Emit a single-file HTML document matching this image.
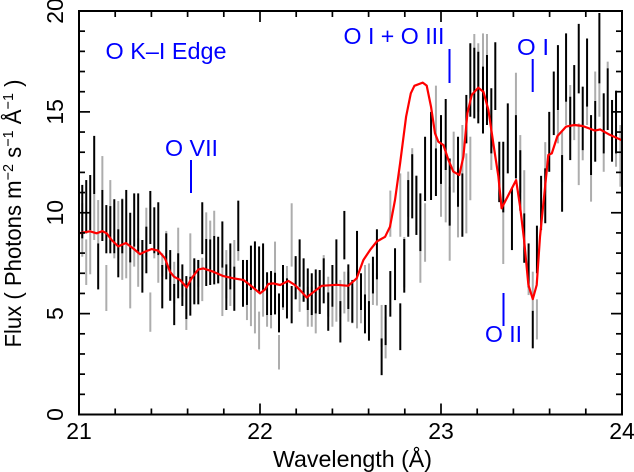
<!DOCTYPE html>
<html>
<head>
<meta charset="utf-8">
<style>
html,body{margin:0;padding:0;background:#fff;}
svg{display:block;}
text{font-family:"Liberation Sans",sans-serif;}
</style>
</head>
<body>
<svg id="chart" width="634" height="472" viewBox="0 0 634 472" xmlns="http://www.w3.org/2000/svg">
  <rect width="634" height="472" fill="#fff"/>
  <defs><clipPath id="plotClip"><rect x="79" y="11" width="543" height="403.5"/></clipPath></defs>
  <g id="grayBars" clip-path="url(#plotClip)"></g>
  <g id="blackBars" clip-path="url(#plotClip)"></g>
  <polyline id="modelLine" clip-path="url(#plotClip)" fill="none" stroke="#ff0000" stroke-width="2.2" stroke-linejoin="round"/>
  <g id="axes"></g>
  <g fill="#0000ff" font-size="23">
    <text x="105.500" y="59" textLength="121" lengthAdjust="spacingAndGlyphs">O K–I Edge</text>
    <text x="165" y="156" textLength="53" lengthAdjust="spacingAndGlyphs">O VII</text>
    <text x="343.500" y="44" textLength="101" lengthAdjust="spacingAndGlyphs">O I + O III</text>
    <text x="517" y="55" textLength="32" lengthAdjust="spacingAndGlyphs">O I</text>
    <text x="485" y="342" textLength="37" lengthAdjust="spacingAndGlyphs">O II</text>
    <line x1="191" y1="160" x2="191" y2="193" stroke="#0000ff" stroke-width="2"/>
    <line x1="449.500" y1="49" x2="449.500" y2="83" stroke="#0000ff" stroke-width="2"/>
    <line x1="532.700" y1="59" x2="532.700" y2="92" stroke="#0000ff" stroke-width="2"/>
    <line x1="503.500" y1="293" x2="503.500" y2="326" stroke="#0000ff" stroke-width="2"/>
  </g>
  <text x="273" y="467" font-size="23" fill="#000" textLength="159" lengthAdjust="spacingAndGlyphs">Wavelength (Å)</text>
  <text transform="translate(21,347.500) rotate(-90)" font-size="23" fill="#000" textLength="268" lengthAdjust="spacingAndGlyphs">Flux ( Photons m<tspan dy="-8" font-size="15">−2</tspan><tspan dy="8"> s</tspan><tspan dy="-8" font-size="15">−1</tspan><tspan dy="8"> Å</tspan><tspan dy="-8" font-size="15">−1</tspan><tspan dy="8"> )</tspan></text>
</svg>
<script>
const wavelengths = [
21.018,21.040,21.062,21.084,21.106,21.129,21.151,21.173,21.195,21.217,
21.239,21.261,21.283,21.305,21.327,21.350,21.372,21.394,21.416,21.438,
21.460,21.482,21.504,21.526,21.548,21.571,21.593,21.615,21.637,21.659,
21.681,21.703,21.725,21.747,21.769,21.792,21.814,21.836,21.858,21.880,
21.906,21.928,21.950,21.972,21.995,22.017,22.039,22.061,22.083,22.105,
22.127,22.149,22.175,22.197,22.219,22.241,22.264,22.286,22.308,22.330,
22.352,22.377,22.400,22.422,22.444,22.466,22.488,22.510,22.536,22.558,
22.580,22.602,22.624,22.646,22.672,22.694,22.720,22.746,22.775,22.797,
22.819,22.841,22.864,22.886,22.912,22.945,22.972,23.000,23.026,23.048,
23.070,23.094,23.118,23.140,23.162,23.184,23.206,23.232,23.254,23.278,
23.300,23.322,23.344,23.369,23.392,23.414,23.438,23.460,23.484,23.507,
23.530,23.553,23.576,23.598,23.623,23.646,23.669,23.691,23.714,23.736,
23.761,23.783,23.807,23.829,23.852,23.875,23.899,23.921,23.945,23.967,23.991];

const blackHigh = [
11.38,11.62,11.87,13.81,8.48,11.13,10.38,10.33,10.67,9.18,
10.67,11.13,10.0,10.96,10.96,8.65,9.31,11.08,10.27,10.52,
7.41,8.98,8.15,6.47,7.99,7.44,6.86,6.83,7.74,7.66,
10.52,8.70,8.68,8.85,8.81,9.57,7.44,8.48,7.33,10.6,
7.66,7.66,8.37,8.58,8.33,8.48,7.05,7.11,7.03,6.0,
7.41,6.75,6.37,7.85,8.68,7.74,7.24,7.0,7.19,7.16,
7.74,6.05,7.41,8.68,5.62,10.09,7.44,6.67,9.1,7.0,
5.95,5.62,7.82,9.18,3.77,5.43,7.11,8.24,5.51,8.70,
11.62,12.9,11.82,10.96,13.77,15.0,13.19,14.84,15.64,12.69,
null,13.77,11.95,15.84,18.4,18.18,17.98,17.24,17.82,16.17,
18.45,13.52,13.52,15.42,11.24,14.84,13.1,9.97,8.48,5.14,
9.36,11.83,12.2,15.0,17.0,18.31,12.86,18.89,15.75,17.32,
19.36,16.25,18.64,14.84,15.54,19.9,15.92,17.16,15.59,16.05,null];

const blackLow = [
8.73,8.98,9.14,10.93,6.20,8.60,7.99,7.99,7.99,6.80,
7.99,8.48,7.54,8.32,7.99,6.04,7.0,8.45,7.99,7.90,
5.26,6.70,5.64,4.43,5.76,5.38,4.73,4.90,5.46,5.46,
7.95,6.37,6.42,6.45,6.5,7.28,5.18,6.2,5.14,8.10,
5.34,5.43,6.17,6.25,6.09,6.17,4.93,4.93,4.96,4.07,
5.31,4.76,4.52,5.71,6.33,5.59,5.18,4.93,5.01,4.98,
5.51,4.15,5.34,6.42,3.57,7.69,5.23,4.55,6.83,5.18,
4.02,3.66,6.0,6.7,1.95,3.44,4.85,5.67,3.19,6.04,
8.81,9.72,8.9,8.10,10.58,10.63,10.83,11.43,12.12,9.36,
null,10.30,8.81,13.44,14.76,14.68,14.43,13.93,14.35,12.94,
15.09,10.53,10.02,11.95,8.15,11.70,10.1,7.52,6.30,3.28,
7.0,9.14,9.48,12.03,13.85,15.09,10.05,15.5,12.61,14.35,
15.92,13.1,15.26,11.87,12.53,16.41,12.94,14.1,12.53,12.94,null];

const grayHigh = [
10.47,8.68,9.14,10.93,10.63,12.81,7.41,11.62,7.99,10.58,
10.71,8.48,7.66,8.32,8.73,8.65,10.25,6.05,7.99,7.9,
7.99,9.1,6.83,7.57,9.26,6.67,6.50,8.98,7.66,7.66,
7.77,10.02,9.61,10.1,7.16,7.28,8.15,6.2,8.65,8.1,
7.16,5.43,6.17,6.25,5.10,6.17,4.93,6.33,8.57,3.94,
6.33,7.36,10.47,7.74,6.33,7.16,6.33,6.33,6.17,7.16,
7.9,6.83,5.34,6.42,6.67,7.08,7.08,6.33,6.83,6.33,
7.41,7.49,7.49,7.0,5.43,4.85,11.1,null,11.95,8.8,
12.04,13.2,11.87,9.14,10.47,null,16.3,13.6,13.0,11.29,
14.02,12.28,14.35,12.94,13.77,18.86,18.4,18.89,18.86,15.09,
null,11.8,10.3,null,null,16.94,13.85,12.11,8.15,7.08,
5.71,null,13.5,null,null,15.09,14.0,15.5,16.33,14.35,
14.43,13.1,15.26,11.87,17.0,16.41,12.94,17.49,null,12.94,14.35];

const grayLow = [
7.82,6.42,6.95,8.65,8.48,11.13,5.13,8.98,7.74,8.15,
6.67,6.75,5.26,7.33,6.33,7.16,7.82,4.10,7.74,6.53,
6.83,7.16,5.64,5.51,6.67,5.84,4.19,6.83,5.51,6.33,
5.62,8.70,8.68,8.85,6.5,4.88,5.76,5.38,7.33,7.62,
5.51,4.68,4.38,4.02,3.23,4.85,4.35,4.27,7.03,2.23,
5.18,6.75,7.33,5.71,5.09,5.59,4.35,4.35,4.02,5.01,
7.16,4.85,4.35,4.6,4.85,5.01,4.6,4.52,4.27,4.52,
5.51,5.51,5.43,5.4,3.36,2.78,8.81,null,8.81,6.3,
9.8,10.63,9.14,6.53,7.57,null,13.19,9.8,9.52,7.62,
11.0,8.78,11.95,8.98,10.62,15.92,15.0,15.92,15.92,12.12,
null,10.52,7.46,null,null,14.84,11.0,9.97,5.92,5.14,
3.72,null,11.0,null,null,13.44,11.5,14.35,13.6,13.6,
11.37,12.6,14.35,10.55,15.54,14.76,12.03,17.16,null,12.28,11.29];

const modelWave = [
21.0,21.061,21.097,21.129,21.153,21.180,21.217,21.259,21.300,21.337,
21.364,21.401,21.438,21.475,21.503,21.525,21.558,21.595,21.622,21.659,
21.687,21.742,21.797,21.853,21.908,21.945,22.0,22.028,22.046,22.074,
22.111,22.157,22.193,22.230,22.258,22.286,22.341,22.424,22.488,22.534,
22.571,22.608,22.645,22.691,22.718,22.746,22.774,22.807,22.833,22.853,
22.899,22.921,22.945,22.967,22.985,23.013,23.041,23.068,23.101,23.124,
23.146,23.170,23.206,23.234,23.262,23.289,23.317,23.335,23.415,23.437,
23.459,23.483,23.507,23.529,23.547,23.575,23.593,23.612,23.643,23.691,
23.737,23.783,23.851,23.879,23.925,23.998];

const modelFlux = [
8.98,9.08,8.98,9.09,8.98,8.65,8.33,8.5,8.23,7.95,
8.07,8.2,8.12,7.74,7.08,6.83,6.67,6.3,6.75,7.19,
7.24,7.08,6.86,6.75,6.67,6.42,6.0,6.2,6.47,6.5,
6.42,6.62,6.42,6.08,5.8,6.0,6.38,6.43,6.38,6.75,
7.66,8.15,8.57,8.81,9.31,10.63,12.45,14.76,15.92,16.29,
16.45,16.3,15.26,13.94,13.52,13.36,12.62,12.04,11.87,12.78,
14.93,15.84,16.2,16.0,15.1,13.44,11.79,10.22,11.62,10.3,
8.65,6.42,5.72,6.42,8.81,11.29,12.86,12.94,13.8,14.27,
14.35,14.3,14.07,14.13,13.9,13.6];

const xTickLabels = ["21","22","23","24"];
const yTickLabels = ["0","5","10","15","20"];
const xMinorTicks = [21.2,21.4,21.6,21.8,22.2,22.4,22.6,22.8,23.2,23.4,23.6,23.8];
const yMinorTicks = [1,2,3,4,6,7,8,9,11,12,13,14,16,17,18,19];

const NS = "http://www.w3.org/2000/svg";
const plotLeft = 79, plotRight = 622, plotTop = 11, plotBottom = 414.5;
function xScale(w){ return plotLeft + (w - 21) / 3 * (plotRight - plotLeft); }
function yScale(f){ return plotBottom - f / 20 * (plotBottom - plotTop); }

function makeLine(x1, y1, x2, y2, color, width){
  const el = document.createElementNS(NS, "line");
  el.setAttribute("x1", x1);
  el.setAttribute("y1", y1);
  el.setAttribute("x2", x2);
  el.setAttribute("y2", y2);
  el.setAttribute("stroke", color);
  el.setAttribute("stroke-width", width);
  return el;
}

const grayGroup = document.getElementById("grayBars");
const blackGroup = document.getElementById("blackBars");
wavelengths.forEach(function(w, i){
  if (grayHigh[i] !== null) {
    const g = makeLine(xScale(w), yScale(grayHigh[i]), xScale(w), yScale(grayLow[i]), "#adadad", 2);
    
    
    grayGroup.appendChild(g);
  }
  if (blackHigh[i] !== null) {
    const b = makeLine(xScale(w), yScale(blackHigh[i]), xScale(w), yScale(blackLow[i]), "#000", 2);
    
    
    blackGroup.appendChild(b);
  }
});

document.getElementById("modelLine").setAttribute("points",
  modelWave.map(function(w, i){ return xScale(w).toFixed(1) + "," + yScale(modelFlux[i]).toFixed(1); }).join(" "));

const axes = document.getElementById("axes");
const frame = document.createElementNS(NS, "rect");
frame.setAttribute("x", plotLeft);
frame.setAttribute("y", plotTop);
frame.setAttribute("width", plotRight - plotLeft);
frame.setAttribute("height", plotBottom - plotTop);
frame.setAttribute("fill", "none");
frame.setAttribute("stroke", "#000");
frame.setAttribute("stroke-width", "2");


axes.appendChild(frame);

xTickLabels.forEach(function(label){
  const x = xScale(Number(label));
  [[plotBottom, plotBottom - 11], [plotTop, plotTop + 11]].forEach(function(p){
    const t = makeLine(x, p[0], x, p[1], "#000", 1.7);
    
    
    axes.appendChild(t);
  });
  const txt = document.createElementNS(NS, "text");
  txt.setAttribute("x", x);
  txt.setAttribute("y", 439);
  txt.setAttribute("text-anchor", "middle");
  txt.setAttribute("font-size", "23");
  txt.textContent = label;
  
  
  axes.appendChild(txt);
});
xMinorTicks.forEach(function(v){
  const x = xScale(v);
  [[plotBottom, plotBottom - 6], [plotTop, plotTop + 6]].forEach(function(p){
    const t = makeLine(x, p[0], x, p[1], "#000", 1.7);
    
    
    axes.appendChild(t);
  });
});
yTickLabels.forEach(function(label){
  const y = yScale(Number(label));
  [[plotLeft, plotLeft + 11], [plotRight, plotRight - 11]].forEach(function(p){
    const t = makeLine(p[0], y, p[1], y, "#000", 1.7);
    
    
    axes.appendChild(t);
  });
  const txt = document.createElementNS(NS, "text");
  txt.setAttribute("transform", "translate(63," + y + ") rotate(-90)");
  txt.setAttribute("text-anchor", "middle");
  txt.setAttribute("font-size", "23");
  txt.textContent = label;
  
  
  axes.appendChild(txt);
});
yMinorTicks.forEach(function(v){
  const y = yScale(v);
  [[plotLeft, plotLeft + 6], [plotRight, plotRight - 6]].forEach(function(p){
    const t = makeLine(p[0], y, p[1], y, "#000", 1.7);
    
    
    axes.appendChild(t);
  });
});
</script>
</body>
</html>
